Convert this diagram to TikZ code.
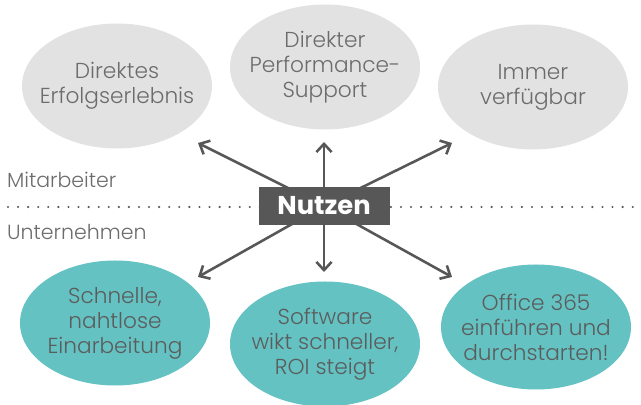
\documentclass[tikz,border=0pt]{standalone}
\usepackage{fontspec}
\IfFontExistsTF{Poppins Light}{\setmainfont{Poppins Light}}{\setmainfont{Poppins}}
\newfontfamily\headfont{Poppins}
\usepackage{tikz}
\usetikzlibrary{shapes.geometric, arrows.meta, positioning}
\definecolor{bubblegray}{HTML}{E2E2E2}
\definecolor{bubbleteal}{HTML}{64C2C2}
\definecolor{textgray}{HTML}{6C6C6C}
\definecolor{arrowgray}{HTML}{575757}

\begin{document}
\begin{tikzpicture}[x=0.03cm, y=-0.03cm,
  bubble/.style={ellipse, minimum width=5.7cm, minimum height=3.75cm, inner sep=-14pt,
    align=center, font=\fontsize{18.5}{21.3}\selectfont},
  staff/.style={bubble, fill=bubblegray, text=textgray},
  company/.style={bubble, fill=bubbleteal, text=textgray!85!black},
  side/.style={anchor=west, text=textgray, font=\fontsize{17.5}{20}\selectfont},
  benefitarrow/.style={draw=arrowgray, line width=2.2pt,
    -{Straight Barb[length=7pt, width=13pt, line width=2.2pt]}}
]
  \useasboundingbox (0,0) rectangle (641,405);

  % Mitarbeiter
  \node[staff] (erfolg) at (117,86) {Direktes\\Erfolgserlebnis};
  \node[staff] (support) at (325,67) {Direkter\\Performance-\\Support};
  \node[staff] (verfuegbar) at (533,87) {Immer\\verfügbar};

  % Unternehmen
  \node[company] (einarbeitung) at (115,323) {Schnelle,\\nahtlose\\Einarbeitung};
  \node[company] (roi) at (325,344) {Software\\wikt schneller,\\ROI steigt};
  \node[company] (office) at (536,327) {Office 365\\einführen und\\durchstarten!};

  % trennlinie
  \coordinate (lineL) at (8,207);
  \coordinate (lineR) at (641,207);
  \draw[arrowgray, line width=2pt, line cap=round, dash pattern=on 0pt off 8.6pt] (lineL) -- (lineR);

  \node[side] (mitarbeiter) at (3,180) {Mitarbeiter};
  \node[side] (unternehmen) at (3,232) {Unternehmen};

  % Pfeile
  \coordinate (c) at (324,206);
  \foreach \tip/\px/\py in {
    tipUL/198/143, tipU/324/142, tipUR/452/143,
    tipDL/198/277, tipD/324/272, tipDR/452/277
  } {
    \coordinate (\tip) at (\px,\py);
    \draw[benefitarrow] (c) -- (\tip);
  }

  \node[fill=arrowgray, text=white, minimum width=3.93cm, minimum height=1.14cm,
    inner sep=0pt, font=\fontsize{22}{26}\headfont\bfseries] (nutzen) at (c) {Nutzen};
\end{tikzpicture}
\end{document}
